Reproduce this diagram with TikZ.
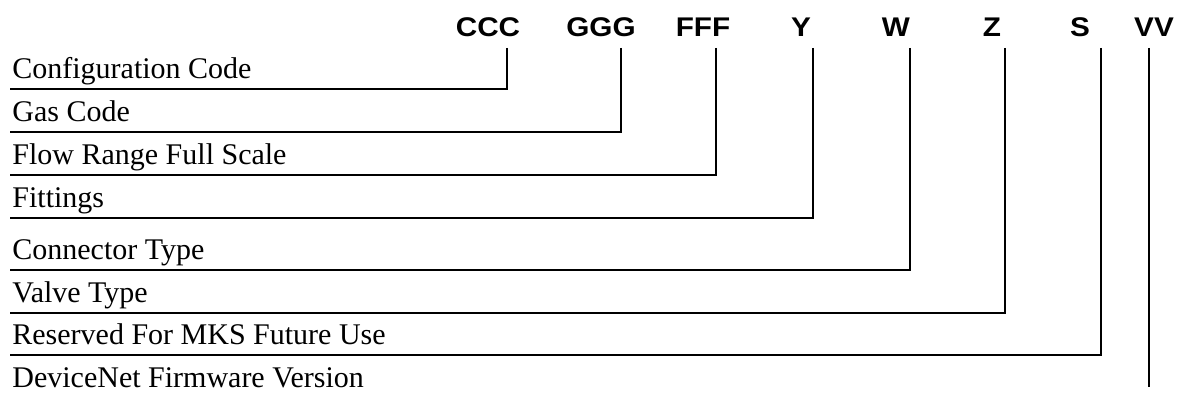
\documentclass[tikz,border=0pt]{standalone}
\usepackage{fontspec}
\setmainfont{Liberation Serif}
\newfontfamily\headfont{Liberation Sans}[FakeStretch=1.1]
\usetikzlibrary{positioning}

\newcommand\fieldfont{\fontsize{15}{17}\selectfont}
\newcommand\codefont{\headfont\bfseries\fontsize{13.5}{15}\selectfont}

\begin{document}
\begin{tikzpicture}[
  x=0.5pt, y=-0.5pt,
  code/.style ={font=\codefont, anchor=base, inner sep=0pt},
  field/.style={font=\fieldfont, anchor=base west, inner sep=0pt},
  lead/.style ={line width=1.1pt},
]
\useasboundingbox (0,0) rectangle (1179,395);

% Code letters
\node[code] (hC) at (488,37)  {CCC};
\node[code] (hG) at (601,37)  {GGG};
\node[code] (hF) at (703,37)  {FFF};
\node[code] (hY) at (801,37)  {Y};
\node[code] (hW) at (896,37)  {W};
\node[code] (hZ) at (992,37)  {Z};
\node[code] (hS) at (1080,37) {S};
\node[code] (hV) at (1154,37) {VV};

% Field names
\node[field] (fC) at (12,79)  {Configuration Code};
\node[field] (fG) at (12,122) {Gas Code};
\node[field] (fF) at (12,165) {Flow Range Full Scale};
\node[field] (fY) at (12,208) {Fittings};
\node[field] (fW) at (12,260) {Connector Type};
\node[field] (fZ) at (12,303) {Valve Type};
\node[field] (fS) at (12,345) {Reserved For MKS Future Use};
\node[field] (fV) at (12,387) {DeviceNet Firmware Version};

% Leader tops (below the letters)
\coordinate (tC) at (507,48);
\coordinate (tG) at (621,48);
\coordinate (tF) at (716,48);
\coordinate (tY) at (813,48);
\coordinate (tW) at (910,48);
\coordinate (tZ) at (1005,48);
\coordinate (tS) at (1101,48);
\coordinate (tV) at (1149,48);

% Leader ends (left, under each field name)
\coordinate (eC) at (10,89);
\coordinate (eG) at (10,132);
\coordinate (eF) at (10,175);
\coordinate (eY) at (10,218);
\coordinate (eW) at (10,270);
\coordinate (eZ) at (10,313);
\coordinate (eS) at (10,355);
\coordinate (eV) at (1149,387);

% Leaders
\draw[lead] (tC) |- (eC);
\draw[lead] (tG) |- (eG);
\draw[lead] (tF) |- (eF);
\draw[lead] (tY) |- (eY);
\draw[lead] (tW) |- (eW);
\draw[lead] (tZ) |- (eZ);
\draw[lead] (tS) |- (eS);
\draw[lead] (tV) -- (eV);

\end{tikzpicture}
\end{document}
